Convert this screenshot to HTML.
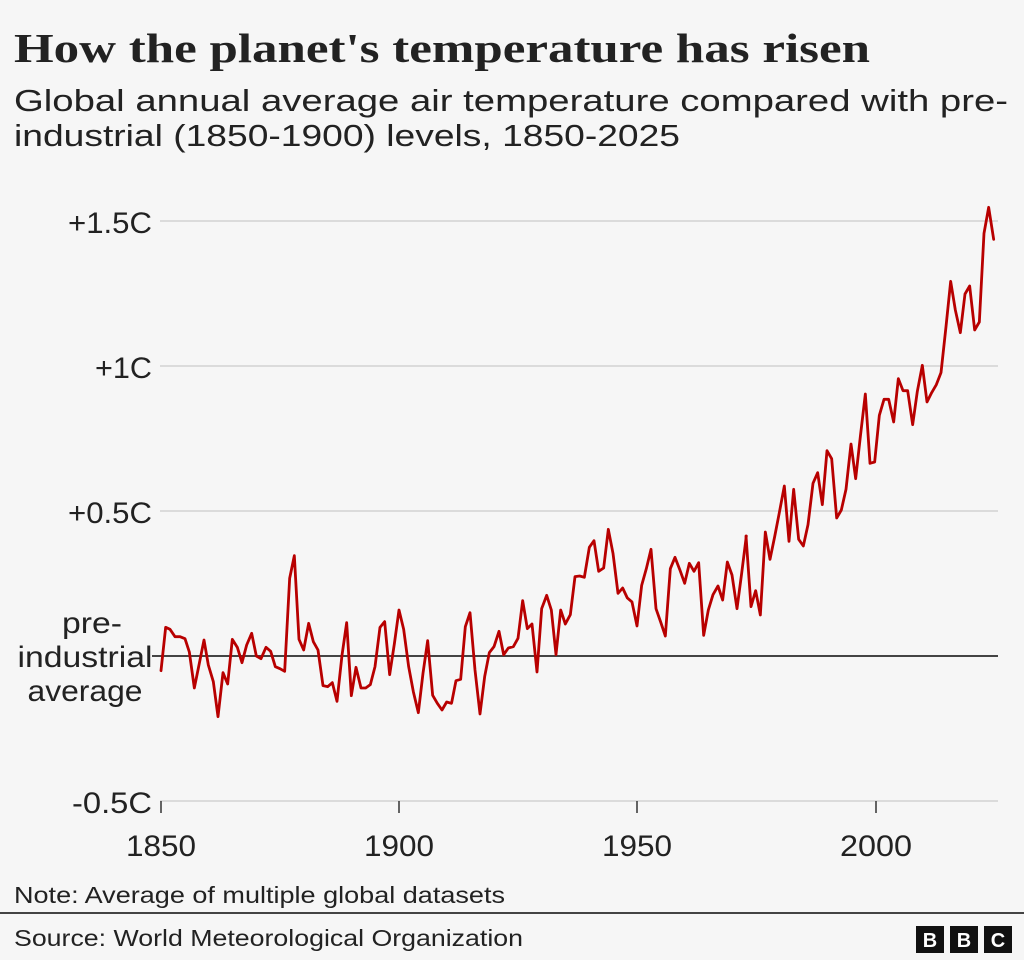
<!DOCTYPE html>
<html><head><meta charset="utf-8"><style>
html,body{margin:0;padding:0;background:#f6f6f6;}
svg{display:block;}
text{font-family:"Liberation Sans",sans-serif;fill:#222;}
</style></head><body>
<svg width="1024" height="960" viewBox="0 0 1024 960" xmlns="http://www.w3.org/2000/svg">
<rect width="1024" height="960" fill="#f6f6f6"/>
<text x="14" y="62" font-weight="bold" font-size="41" textLength="856" lengthAdjust="spacingAndGlyphs" style="font-family:'Liberation Serif',serif">How the planet's temperature has risen</text>
<text x="14" y="111" font-size="31" fill="#333" textLength="994" lengthAdjust="spacingAndGlyphs">Global annual average air temperature compared with pre-</text>
<text x="14" y="146" font-size="31" fill="#333" textLength="666" lengthAdjust="spacingAndGlyphs">industrial (1850-1900) levels, 1850-2025</text>
<g stroke="#d2d2d2" stroke-width="1.5">
<line x1="160" y1="221" x2="998" y2="221"/>
<line x1="160" y1="366" x2="998" y2="366"/>
<line x1="160" y1="511" x2="998" y2="511"/>
<line x1="160" y1="801" x2="998" y2="801"/>
</g>
<g stroke="#333" stroke-width="1.5">
<line x1="161" y1="801" x2="161" y2="813"/>
<line x1="399" y1="801" x2="399" y2="813"/>
<line x1="637" y1="801" x2="637" y2="813"/>
<line x1="876" y1="801" x2="876" y2="813"/>
</g>
<line x1="152" y1="656" x2="998" y2="656" stroke="#444" stroke-width="2"/>
<g font-size="30" text-anchor="end">
<text x="152" y="233" textLength="84" lengthAdjust="spacingAndGlyphs">+1.5C</text>
<text x="152" y="378" textLength="57" lengthAdjust="spacingAndGlyphs">+1C</text>
<text x="152" y="523" textLength="84" lengthAdjust="spacingAndGlyphs">+0.5C</text>
<text x="152" y="813" textLength="80" lengthAdjust="spacingAndGlyphs">-0.5C</text>
</g>
<g font-size="30" text-anchor="middle">
<text x="92" y="633" textLength="60" lengthAdjust="spacingAndGlyphs">pre-</text>
<text x="85" y="667" textLength="135" lengthAdjust="spacingAndGlyphs">industrial</text>
<text x="85" y="701" textLength="115" lengthAdjust="spacingAndGlyphs">average</text>
<text x="161" y="856" textLength="70" lengthAdjust="spacingAndGlyphs">1850</text>
<text x="399" y="856" textLength="70" lengthAdjust="spacingAndGlyphs">1900</text>
<text x="637" y="856" textLength="70" lengthAdjust="spacingAndGlyphs">1950</text>
<text x="876" y="856" textLength="72" lengthAdjust="spacingAndGlyphs">2000</text>
</g>
<g fill="none" stroke="#b80000" stroke-width="2.8" stroke-linejoin="round" stroke-linecap="round">
<polyline transform="translate(155,540) scale(0.33333)" vector-effect="non-scaling-stroke" points="18,392 32,262 45,268 60,290 75,290 90,296 103,336 118,444 133,370 147,300 160,375 175,425 189,530 204,398 218,432 232,298 247,322 261,368 275,315 290,280 304,348 318,356 333,322 347,334 361,380 375,386 389,394 404,115 418,47 432,298 446,330 461,250 475,305 489,330 504,437 518,440 532,428 546,484 561,346 575,248 589,467 603,382 618,444 632,444 646,434 660,380 675,262 689,245 704,404 718,312 732,210 746,268 761,380 775,455 790,518 804,400 818,302 833,466 847,490 861,510 875,486 889,490"/>
<polyline transform="translate(450,510) scale(0.33333)" vector-effect="non-scaling-stroke" points="5,578 18,512 32,508 46,350 60,308 75,480 90,612 104,500 118,428 132,410 147,364 161,434 175,414 190,410 204,385 218,272 232,356 246,342 261,486 275,296 290,256 304,300 318,434 332,300 346,342 361,314 375,200 389,198 403,202 418,112 432,92 446,184 461,174 475,58 489,130 504,250 518,234 532,264 546,276 561,348 575,226 589,176 603,118 618,296 632,336 646,378 661,176 675,142 689,178 704,220 718,160 732,184 746,158 761,376 775,300 789,254 804,228 818,270 832,156 846,195 861,296 875,190 889,78"/>
<polyline transform="translate(740,190) scale(0.33333)" vector-effect="non-scaling-stroke" points="18,1038 33,1250 47,1202 61,1275 76,1026 90,1108 104,1040 118,968 133,888 147,1054 161,898 176,1048 190,1068 204,1004 219,880 233,848 247,944 261,782 275,806 290,984 304,960 318,898 333,762 347,866 361,740 376,612 390,820 404,816 418,676 432,628 446,628 461,696 475,566 489,602 503,602 518,704 532,604 547,526 561,636 575,608 589,584 603,548 618,410 632,274 646,360 661,428 675,312 689,288 704,420 718,396 732,130 746,52 761,148"/>
</g>
<text x="14" y="903" font-size="23" fill="#333" textLength="491" lengthAdjust="spacingAndGlyphs">Note: Average of multiple global datasets</text>
<line x1="0" y1="913" x2="1024" y2="913" stroke="#444" stroke-width="2"/>
<text x="14" y="946" font-size="23" fill="#333" textLength="509" lengthAdjust="spacingAndGlyphs">Source: World Meteorological Organization</text>
<g>
<rect x="916" y="926" width="28" height="27" fill="#111"/>
<rect x="950" y="926" width="28" height="27" fill="#111"/>
<rect x="984" y="926" width="28" height="27" fill="#111"/>
<g font-size="20" font-weight="bold" text-anchor="middle">
<text x="930" y="947" style="fill:#fff">B</text>
<text x="964" y="947" style="fill:#fff">B</text>
<text x="998" y="947" style="fill:#fff">C</text>
</g>
</g>
</svg>
</body></html>
